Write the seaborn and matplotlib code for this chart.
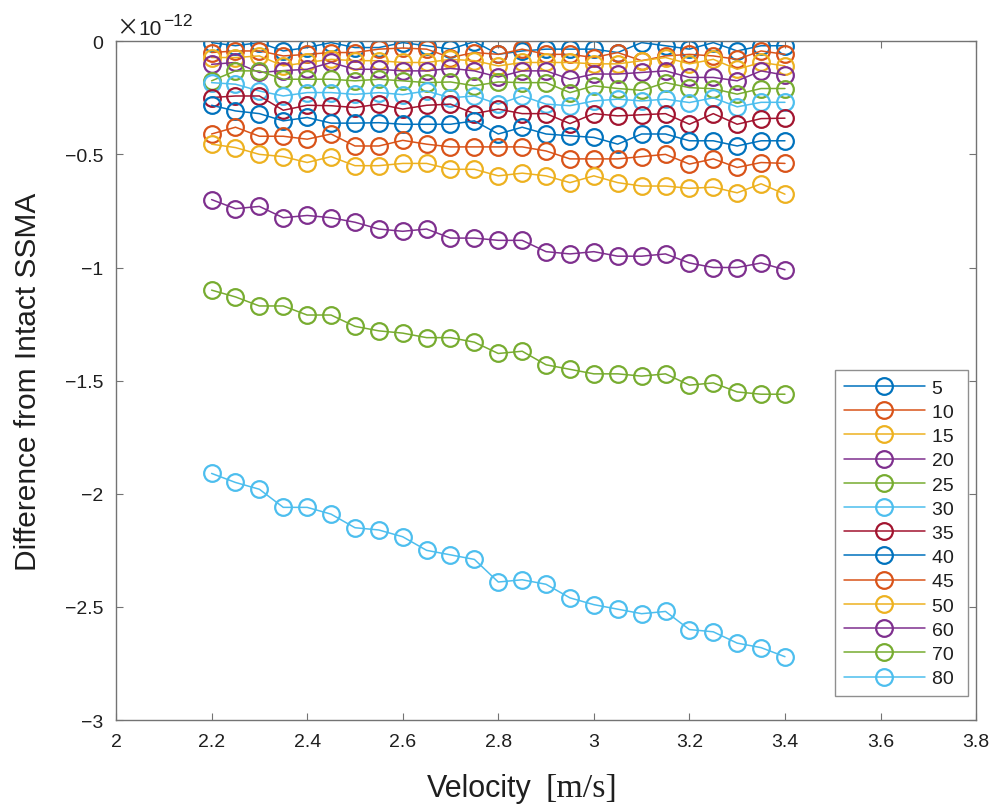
import numpy as np
import pandas as pd
import matplotlib
matplotlib.use("Agg")
import matplotlib.pyplot as plt
import seaborn as sns

# Velocity [m/s]
velocity = [2.20, 2.25, 2.30, 2.35, 2.40, 2.45, 2.50, 2.55, 2.60, 2.65, 2.70, 2.75, 2.80,
            2.85, 2.90, 2.95, 3.00, 3.05, 3.10, 3.15, 3.20, 3.25, 3.30, 3.35, 3.40]

# Legend labels
levels = ["5", "10", "15", "20", "25", "30", "35", "40", "45", "50", "60", "70", "80"]

# Difference from Intact SSMA, in units of 1e-12
d5 = [-0.006, -0.020, -0.006, -0.043, -0.028, -0.006, -0.028, -0.028, -0.006, -0.020, -0.035, -0.002, -0.058,
      -0.043, -0.035, -0.035, -0.035, -0.050, -0.006, -0.020, -0.035, -0.006, -0.043, -0.020, -0.020]
d10 = [-0.050, -0.043, -0.043, -0.065, -0.058, -0.050, -0.050, -0.035, -0.030, -0.035, -0.072, -0.050, -0.058,
       -0.035, -0.058, -0.058, -0.072, -0.050, -0.086, -0.065, -0.058, -0.065, -0.080, -0.043, -0.058]
d15 = [-0.072, -0.072, -0.065, -0.109, -0.094, -0.080, -0.086, -0.086, -0.094, -0.094, -0.080, -0.086, -0.109,
       -0.094, -0.094, -0.094, -0.100, -0.100, -0.086, -0.072, -0.100, -0.080, -0.124, -0.094, -0.109]
d20 = [-0.102, -0.094, -0.138, -0.130, -0.124, -0.094, -0.124, -0.124, -0.131, -0.131, -0.120, -0.131, -0.158,
       -0.131, -0.131, -0.168, -0.145, -0.145, -0.138, -0.131, -0.160, -0.160, -0.175, -0.131, -0.150]
d25 = [-0.175, -0.131, -0.131, -0.168, -0.168, -0.168, -0.175, -0.168, -0.175, -0.183, -0.180, -0.197, -0.180,
       -0.183, -0.183, -0.227, -0.197, -0.209, -0.217, -0.183, -0.205, -0.210, -0.234, -0.209, -0.209]
d30 = [-0.183, -0.190, -0.220, -0.242, -0.227, -0.227, -0.235, -0.227, -0.236, -0.220, -0.250, -0.242, -0.278,
       -0.242, -0.278, -0.285, -0.264, -0.256, -0.264, -0.256, -0.271, -0.250, -0.290, -0.270, -0.270]
d35 = [-0.249, -0.242, -0.242, -0.305, -0.283, -0.285, -0.293, -0.278, -0.300, -0.283, -0.278, -0.320, -0.300,
       -0.320, -0.320, -0.364, -0.320, -0.330, -0.325, -0.320, -0.367, -0.320, -0.367, -0.342, -0.340]
d40 = [-0.283, -0.308, -0.320, -0.352, -0.337, -0.362, -0.362, -0.360, -0.367, -0.367, -0.367, -0.352, -0.410,
       -0.380, -0.410, -0.418, -0.425, -0.455, -0.410, -0.410, -0.440, -0.440, -0.463, -0.440, -0.440]
d45 = [-0.410, -0.380, -0.420, -0.420, -0.433, -0.410, -0.463, -0.463, -0.438, -0.455, -0.467, -0.467, -0.467,
       -0.467, -0.485, -0.520, -0.520, -0.520, -0.510, -0.500, -0.543, -0.520, -0.558, -0.536, -0.540]
d50 = [-0.455, -0.470, -0.500, -0.510, -0.536, -0.510, -0.550, -0.550, -0.540, -0.540, -0.566, -0.566, -0.595,
       -0.583, -0.595, -0.625, -0.595, -0.625, -0.640, -0.640, -0.650, -0.645, -0.670, -0.630, -0.676]
d60 = [-0.70, -0.74, -0.73, -0.78, -0.77, -0.78, -0.80, -0.83, -0.84, -0.83, -0.87, -0.87, -0.88,
       -0.88, -0.93, -0.94, -0.93, -0.95, -0.95, -0.94, -0.98, -1.00, -1.00, -0.98, -1.01]
d70 = [-1.10, -1.13, -1.17, -1.17, -1.21, -1.21, -1.26, -1.28, -1.29, -1.31, -1.31, -1.33, -1.38,
       -1.37, -1.43, -1.45, -1.47, -1.47, -1.48, -1.47, -1.52, -1.51, -1.55, -1.56, -1.56]
d80 = [-1.91, -1.95, -1.98, -2.06, -2.06, -2.09, -2.15, -2.16, -2.19, -2.25, -2.27, -2.29, -2.39,
       -2.38, -2.40, -2.46, -2.49, -2.51, -2.53, -2.52, -2.60, -2.61, -2.66, -2.68, -2.72]

series = [d5, d10, d15, d20, d25, d30, d35, d40, d45, d50, d60, d70, d80]

x_ticks = [2, 2.2, 2.4, 2.6, 2.8, 3, 3.2, 3.4, 3.6, 3.8]
x_ticklabels = ["2", "2.2", "2.4", "2.6", "2.8", "3", "3.2", "3.4", "3.6", "3.8"]
y_ticks = [0, -0.5, -1, -1.5, -2, -2.5, -3]
y_ticklabels = ["0", "\u22120.5", "\u22121", "\u22121.5", "\u22122", "\u22122.5", "\u22123"]

matlab_colors = ["#0072BD", "#D95319", "#EDB120", "#7E2F8E", "#77AC30", "#4DBEEE", "#A2142F"]

sns.set_theme(style="white")
plt.rcParams["font.family"] = ["Liberation Sans", "DejaVu Sans"]

rows = []
for lab, vals in zip(levels, series):
    for v, d in zip(velocity, vals):
        rows.append({"Velocity": v, "Diff": d, "Level": lab})
df = pd.DataFrame(rows)

fig = plt.figure(figsize=(9.96, 8.12), dpi=100)
ax = fig.add_axes([0.1165, 0.112, 0.8635, 0.836])

for i, lab in enumerate(levels):
    c = matlab_colors[i % len(matlab_colors)]
    sub = df[df["Level"] == lab]
    sns.lineplot(data=sub, x="Velocity", y="Diff", ax=ax, color=c, label=lab + " ",
                 marker="o", markersize=12, markerfacecolor="none",
                 markeredgecolor=c, markeredgewidth=1.6, linewidth=1.1, sort=False)

ax.set_xlim(2, 3.8)
ax.set_ylim(-3, 0)
ax.set_xticks(x_ticks)
ax.set_xticklabels(x_ticklabels)
ax.set_yticks(y_ticks)
ax.set_yticklabels(y_ticklabels)
ax.tick_params(direction="in", length=5, width=0.8, colors="0.45", labelcolor="#1f1f1f",
               labelsize=14, top=True, right=True, bottom=True, left=True, pad=9)
for s in ax.spines.values():
    s.set_color("0.45")
    s.set_linewidth(1.0)

ax.set_xlabel("")
ax.set_ylabel("Difference from Intact SSMA", fontsize=21.5, color="#1f1f1f")
ax.yaxis.set_label_coords(-0.086, 0.5)

W, H = 996.0, 812.0
# x label: sans "Velocity" + serif "[m/s]"
t1 = fig.text(427 / W, 1 - 797 / H, "Velocity", fontsize=22, color="#1f1f1f",
              ha="left", va="baseline")
# exponent label "x10^-12"
tx = fig.text(116 / W, 1 - 35 / H, "\u00d7", fontsize=16, color="#1f1f1f",
              ha="left", va="baseline", family=["Noto Sans CJK JP", "DejaVu Sans"])
fig.canvas.draw()
bbx = tx.get_window_extent()
t3 = fig.text((bbx.x1 + 0) / W, 1 - 35 / H, "10", fontsize=15, color="#1f1f1f",
              ha="left", va="baseline")
fig.canvas.draw()
bb = t1.get_window_extent()
fig.text((bb.x1 + 14) / W, 1 - 797 / H, "[m/s]", fontsize=24.5, color="#1f1f1f",
         ha="left", va="baseline", family=["Liberation Serif", "DejaVu Serif"])
bb3 = t3.get_window_extent()
fig.text((bb3.x1 + 1) / W, 1 - 26 / H, "\u221212", fontsize=12.5, color="#1f1f1f",
         ha="left", va="baseline")

leg = ax.legend(loc="lower right", bbox_to_anchor=(0.9907, 0.0353), borderaxespad=0,
                fontsize=14, handlelength=4.2, handletextpad=0.35, labelspacing=0.34,
                frameon=True, fancybox=False, edgecolor="0.45", borderpad=0.45)
leg.get_frame().set_linewidth(1.0)
for txt in leg.get_texts():
    txt.set_color("#1f1f1f")

fig.savefig("out.png", dpi=100, facecolor="white")
